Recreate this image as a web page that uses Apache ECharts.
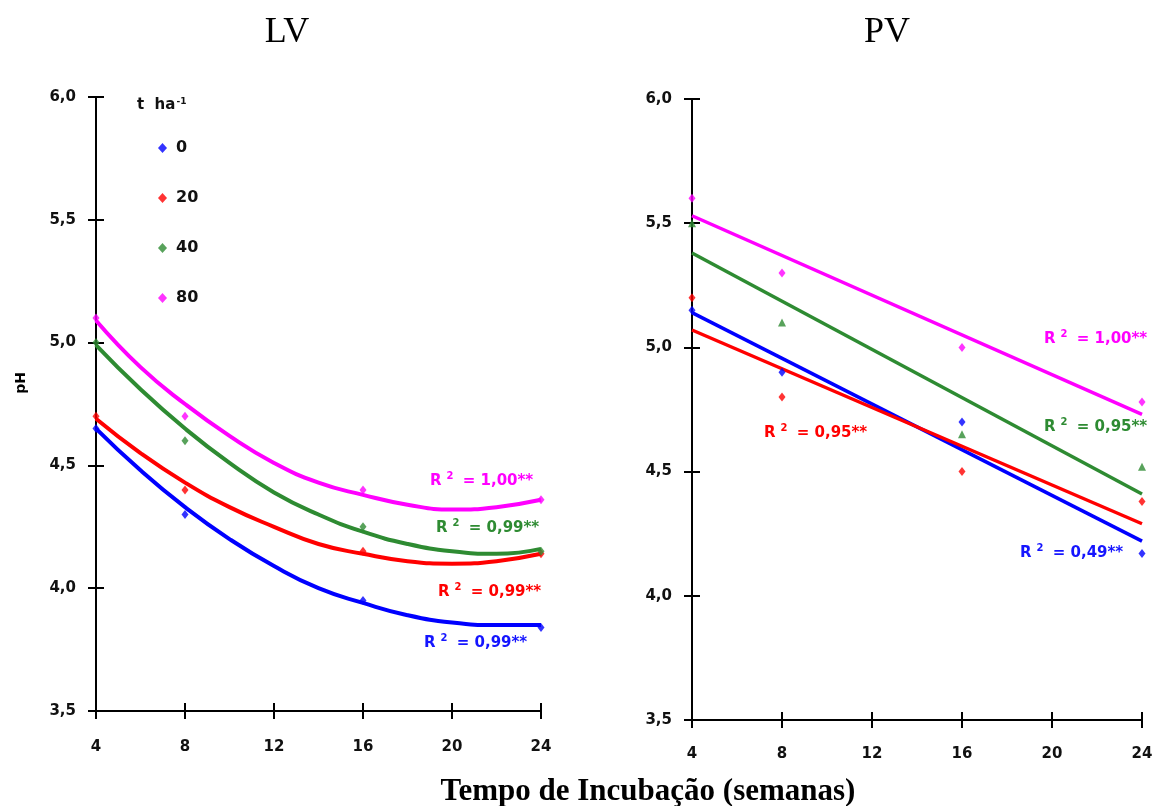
<!DOCTYPE html>
<html>
<head>
<meta charset="utf-8">
<script src="https://cdn.jsdelivr.net/npm/echarts@6/dist/echarts.min.js"></script>
<style>
  html, body { margin: 0; padding: 0; background: #fff; }
  #chart { width: 1157px; height: 806px; }
</style>
</head>
<body>
<div id="chart"></div>
<script>
// semanas de incubação
var weeks = [4, 8, 16, 24];
var fitWeeks = [4, 6, 8, 10, 12, 14, 16, 18, 20, 22, 24];
var lineWeeks = [4, 24];
var doses = ['0', '20', '40', '80'];
var colors = ['#0000FF', '#FF0000', '#2E8B32', '#FF00FF'];

// LV - pontos observados
var lv0 = [4.65, 4.30, 3.95, 3.84];
var lv20 = [4.70, 4.40, 4.15, 4.14];
var lv40 = [5.00, 4.60, 4.25, 4.15];
var lv80 = [5.10, 4.70, 4.40, 4.36];
// LV - curvas ajustadas
var lvFit0 = [4.65, 4.48, 4.33, 4.20, 4.09, 4.00, 3.94, 3.89, 3.86, 3.85, 3.85];
var lvFit20 = [4.69, 4.55, 4.43, 4.33, 4.25, 4.18, 4.14, 4.11, 4.10, 4.11, 4.14];
var lvFit40 = [4.99, 4.81, 4.65, 4.51, 4.39, 4.30, 4.23, 4.18, 4.15, 4.14, 4.16];
var lvFit80 = [5.09, 4.90, 4.75, 4.62, 4.51, 4.43, 4.38, 4.34, 4.32, 4.33, 4.36];

// PV - pontos observados
var pv0 = [5.15, 4.90, 4.70, 4.17];
var pv20 = [5.20, 4.80, 4.50, 4.38];
var pv40 = [5.50, 5.10, 4.65, 4.52];
var pv80 = [5.60, 5.30, 5.00, 4.78];
// PV - retas ajustadas
var pvFit0 = [5.14, 4.22];
var pvFit20 = [5.07, 4.29];
var pvFit40 = [5.38, 4.41];
var pvFit80 = [5.53, 4.73];

var lvR2 = ['0,99**', '0,99**', '0,99**', '1,00**'];
var pvR2 = ['0,49**', '0,95**', '0,95**', '1,00**'];

function pairs(xs, ys) {
    return xs.map(function (x, i) { return [x, ys[i]]; });
}

var lvObs = [lv0, lv20, lv40, lv80];
var lvFit = [lvFit0, lvFit20, lvFit40, lvFit80];
var pvObs = [pv0, pv20, pv40, pv80];
var pvFit = [pvFit0, pvFit20, pvFit40, pvFit80];

var tickFont = { fontSize: 15, fontWeight: 'bold', fontFamily: 'DejaVu Sans', color: '#111' };

function mkX(gi, inside, margin) {
    return {
        type: 'value', gridIndex: gi, min: 4, max: 24, interval: 4,
        axisLine: { show: !inside, onZero: false, lineStyle: { color: '#000', width: 2 } },
        axisTick: { show: true, inside: inside, length: 8, lineStyle: { color: '#000', width: 2 } },
        axisLabel: inside ? { show: false } : Object.assign({ margin: margin }, tickFont),
        splitLine: { show: false }
    };
}
function mkY(gi, inside) {
    return {
        type: 'value', gridIndex: gi, min: 3.5, max: 6.0, interval: 0.5,
        axisLine: { show: !inside, onZero: false, lineStyle: { color: '#000', width: 2 } },
        axisTick: { show: true, inside: inside, length: 8, lineStyle: { color: '#000', width: 2 } },
        axisLabel: inside ? { show: false } : Object.assign({
            margin: 20,
            formatter: function (v) { return v.toFixed(1).replace('.', ','); }
        }, tickFont),
        splitLine: { show: false }
    };
}

var series = [];
[[lvObs, lvFit, fitWeeks, 0, true], [pvObs, pvFit, lineWeeks, 1, false]].forEach(function (p) {
    var obs = p[0], fit = p[1], fx = p[2], gi = p[3], curved = p[4];
    doses.forEach(function (d, i) {
        series.push({
            name: d + ' fit', type: 'line', xAxisIndex: gi, yAxisIndex: gi,
            data: pairs(fx, fit[i]), smooth: curved, showSymbol: false, silent: true,
            lineStyle: { color: colors[i], width: curved ? 4 : 3.5 }, z: 2
        });
    });
    doses.forEach(function (d, i) {
        series.push({
            name: d, type: 'scatter', xAxisIndex: gi, yAxisIndex: gi,
            data: pairs(weeks, obs[i]),
            symbol: (!curved && i === 2) ? 'triangle' : 'diamond',
            symbolSize: (!curved && i === 2) ? 8 : [7, 9],
            itemStyle: { color: colors[i] }, z: 3
        });
    });
});

function r2Text(x, y, val, color) {
    return {
        type: 'text', left: x, top: y - 12,
        style: {
            text: '{a|R}{s|2}{a| = ' + val + '}',
            rich: {
                a: { fontSize: 15, fontWeight: 'bold', fontFamily: 'DejaVu Sans', fill: color, color: color },
                s: { fontSize: 10, fontWeight: 'bold', fontFamily: 'DejaVu Sans', fill: color, color: color, padding: [0, 4, 10, 5] }
            }
        }
    };
}

var chart = echarts.init(document.getElementById('chart'));
var option = {
    backgroundColor: '#fff',
    animation: false,
    title: [
        { text: 'LV', left: 282, top: 10, textAlign: 'center',
          textStyle: { fontFamily: 'Liberation Serif', fontSize: 36, fontWeight: 'normal', color: '#000' } },
        { text: 'PV', left: 882, top: 10, textAlign: 'center',
          textStyle: { fontFamily: 'Liberation Serif', fontSize: 36, fontWeight: 'normal', color: '#000' } },
        { text: 'Tempo de Incubação (semanas)', left: 643, top: 771, textAlign: 'center',
          textStyle: { fontFamily: 'Liberation Serif', fontSize: 31, fontWeight: 'bold', color: '#000' } }
    ],
    legend: {
        data: doses, orient: 'vertical', left: 153, top: 135,
        icon: 'diamond', itemWidth: 9, itemHeight: 10, itemGap: 34,
        textStyle: { fontSize: 16, fontWeight: 'bold', fontFamily: 'DejaVu Sans', color: '#111', padding: [0, 0, 0, 4] }
    },
    grid: [
        { left: 96, top: 97, width: 445, height: 614 },
        { left: 692, top: 99, width: 450, height: 621 },
        { left: 96, top: 97, width: 445, height: 614 },
        { left: 692, top: 99, width: 450, height: 621 }
    ],
    xAxis: [mkX(0, false, 29), mkX(1, false, 27), mkX(2, true, 0), mkX(3, true, 0)],
    yAxis: [mkY(0, false), mkY(1, false), mkY(2, true), mkY(3, true)],
    graphic: [
        { type: 'text', left: 137, top: 97,
          style: { text: '{a|t  ha}{s|-1}',
                   rich: { a: { fontSize: 15, fontWeight: 'bold', fontFamily: 'DejaVu Sans', fill: '#111' },
                           s: { fontSize: 9, fontWeight: 'bold', fontFamily: 'DejaVu Sans', fill: '#111', padding: [0, 0, 8, 1] } } } },
        { type: 'text', left: 14, top: 372, rotation: Math.PI / 2,
          style: { text: 'pH', fontSize: 14, fontWeight: 'bold', fontFamily: 'DejaVu Sans', fill: '#000' } },
        r2Text(430, 483, lvR2[3], '#FF00FF'),
        r2Text(436, 530, lvR2[2], '#2E8B32'),
        r2Text(438, 594, lvR2[1], '#FF0000'),
        r2Text(424, 645, lvR2[0], '#1515FF'),
        r2Text(1044, 341, pvR2[3], '#FF00FF'),
        r2Text(1044, 429, pvR2[2], '#2E8B32'),
        r2Text(764, 435, pvR2[1], '#FF0000'),
        r2Text(1020, 555, pvR2[0], '#1515FF')
    ],
    series: series
};
chart.setOption(option);
</script>
</body>
</html>
